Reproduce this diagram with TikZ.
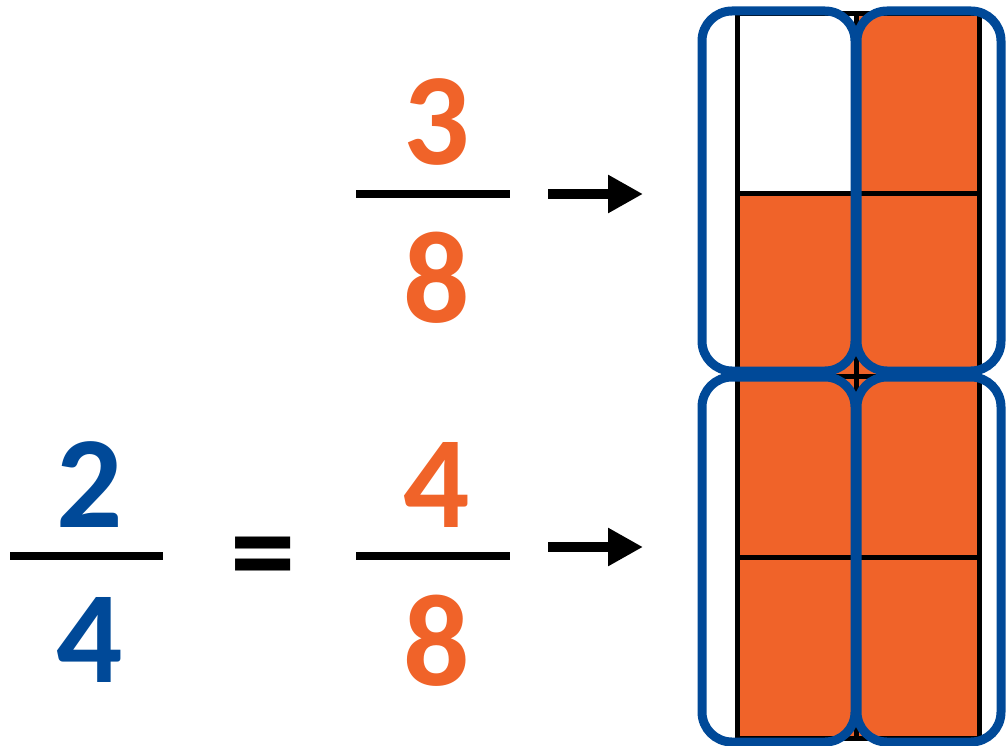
\documentclass[tikz,border=0pt]{standalone}
\usepackage{fontspec}
\setmainfont{Carlito}
\usetikzlibrary{arrows.meta}
\definecolor{orng}{RGB}{240,99,41}
\definecolor{blu}{RGB}{0,73,152}
\begin{document}
\begin{tikzpicture}[x=1pt,y=-1pt,
  num/.style={font=\fontsize{131}{131}\selectfont\bfseries, inner sep=0pt, anchor=base},
  fbar/.style={line width=8pt},
  arr/.style={line width=10pt, -{Triangle[length=35pt,width=36pt]}},
  gridline/.style={line width=5pt},
  blubox/.style={draw=blu, line width=9pt, rounded corners=30pt}]
\useasboundingbox (0,0) rectangle (1006,746);
% grid
\fill[orng] (737,14) rectangle (979,738);
\fill[white] (737,14) rectangle (856,194);
\draw[gridline] (737,14) rectangle (979,738);
\draw[gridline] (856,14) -- (856,738);
\draw[gridline] (737,194) -- (979,194);
\draw[gridline] (737,376) -- (979,376);
\draw[gridline] (737,557) -- (979,557);
% blue boxes
\draw[blubox] (702,11) rectangle (855,371);
\draw[blubox] (857,11) rectangle (1001,371);
\draw[blubox] (702,377) rectangle (855,742);
\draw[blubox] (857,377) rectangle (1001,742);
% top fraction
\node[num,text=orng] (n3) at (437,165) {3};
\node[num,text=orng] (d8a) at (437,322) {8};
\coordinate (b1l) at (356,194);
\coordinate (b1r) at (510,194);
\draw[fbar] (b1l) -- (b1r);
\coordinate (a1s) at (548,194);
\coordinate (a1e) at (643,194);
\draw[arr] (a1s) -- (a1e);
% bottom right fraction
\node[num,text=orng] (n4) at (437,527) {4};
\node[num,text=orng] (d8b) at (437,685) {8};
\coordinate (b2l) at (356,556);
\coordinate (b2r) at (510,556);
\draw[fbar] (b2l) -- (b2r);
\coordinate (a2s) at (548,547);
\coordinate (a2e) at (643,547);
\draw[arr] (a2s) -- (a2e);
% left fraction
\node[num,text=blu] (n2) at (90,527) {2};
\node[num,text=blu] (d4) at (90,682) {4};
\coordinate (b3l) at (10,556);
\coordinate (b3r) at (163,556);
\draw[fbar] (b3l) -- (b3r);
\node[num,anchor=center] (eq) at (263,566) {=};
\end{tikzpicture}
\end{document}
